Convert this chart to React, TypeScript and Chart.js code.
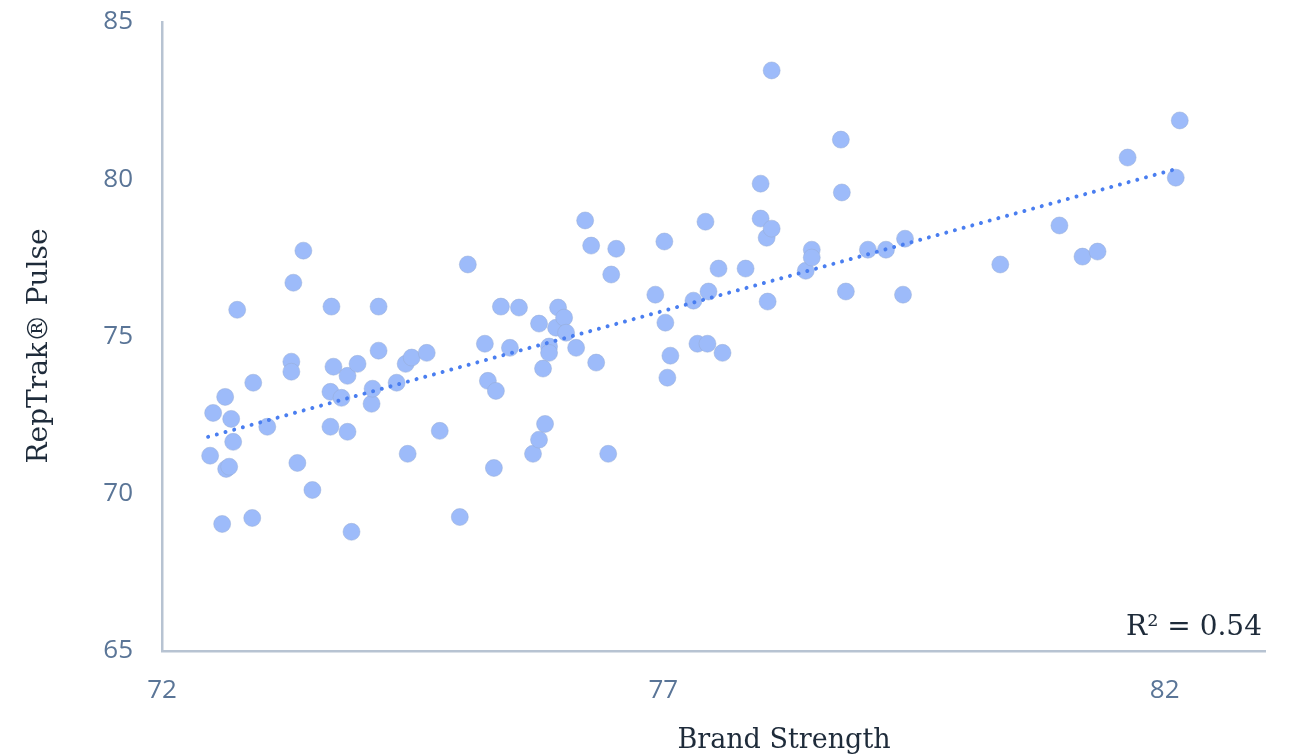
import React, { useEffect, useRef } from "react";
import { Chart, registerables } from "chart.js";

Chart.register(...registerables);

const brandStrength: number[] = [
  72.48, 72.51, 72.63, 72.60, 72.64, 72.67, 72.69, 72.71, 72.75, 72.90,
  72.91, 73.05, 73.29, 73.29, 73.31, 73.35, 73.41, 73.50, 73.69, 73.68,
  73.68, 73.71, 73.79, 73.85, 73.85, 73.89, 73.95, 74.09, 74.10, 74.16,
  74.16, 74.34, 74.43, 74.45, 74.49, 74.64, 74.77, 74.97, 75.05, 75.22,
  75.25, 75.33, 75.31, 75.38, 75.47, 75.56, 75.70, 75.76, 75.76, 75.80,
  75.82, 75.86, 75.86, 75.95, 75.93, 76.01, 76.03, 76.13, 76.22, 76.28,
  76.33, 76.45, 76.48, 76.53, 76.92, 77.01, 77.02, 77.04, 77.07, 77.30,
  77.34, 77.44, 77.42, 77.45, 77.55, 77.59, 77.82, 77.97, 77.97, 78.03,
  78.08, 78.08, 78.04, 78.42, 78.48, 78.48, 78.77, 78.78, 78.82, 79.04,
  79.22, 79.41, 79.39, 80.36, 80.95, 81.18, 81.33, 81.63, 82.11, 82.15,
];

const reptrakPulse: number[] = [
  71.21, 72.57, 73.08, 69.04, 70.79, 70.86, 72.38, 71.65, 75.85, 69.23,
  73.53, 72.13, 74.20, 73.88, 76.71, 70.98, 77.73, 70.12, 75.95, 73.24,
  72.13, 74.04, 73.05, 73.75, 71.97, 68.79, 74.13, 72.86, 73.34, 74.55,
  75.95, 73.53, 74.13, 71.27, 74.33, 74.48, 72.00, 69.26, 77.29, 74.77,
  73.59, 73.27, 70.82, 75.95, 74.64, 75.92, 71.27, 71.72, 75.41, 73.98,
  72.22, 74.68, 74.48, 75.92, 75.28, 75.60, 75.12, 74.64, 78.69, 77.89,
  74.17, 71.27, 76.97, 77.79, 76.33, 78.02, 75.44, 73.69, 74.39, 76.14,
  74.77, 74.77, 78.65, 76.43, 77.16, 74.48, 77.16, 79.86, 78.75, 78.14,
  78.43, 83.46, 76.11, 77.09, 77.76, 77.51, 81.26, 79.58, 76.43, 77.76,
  77.76, 78.11, 76.33, 77.29, 78.53, 77.54, 77.70, 80.69, 80.05, 81.87,
];

const trendX: number[] = [72.46, 82.14];
const trendY: number[] = [71.81, 80.35];

const xTicks: number[] = [72, 77, 82];
const yTicks: number[] = [65, 70, 75, 80, 85];

const xTitle = "Brand Strength";
const yTitle = "RepTrak® Pulse";
const rSquaredLabel = "R² = 0.54";

export default function App() {
  const canvasRef = useRef<HTMLCanvasElement | null>(null);

  useEffect(() => {
    document.body.style.margin = "0";
    const canvas = canvasRef.current;
    if (!canvas) return;

    const titlesPlugin = {
      id: "titlesPlugin",
      afterDraw(chart: any) {
        const ctx = chart.ctx;
        ctx.save();
        ctx.fillStyle = "#1e2b3a";
        ctx.font = "27px 'DejaVu Serif'";
        ctx.textAlign = "center";
        ctx.textBaseline = "alphabetic";
        ctx.fillText(xTitle, 784, 748);
        ctx.save();
        ctx.translate(47, 346);
        ctx.rotate(-Math.PI / 2);
        ctx.font = "28px 'DejaVu Serif'";
        ctx.fillText(yTitle, 0, 0);
        ctx.restore();
        ctx.font = "28px 'DejaVu Serif'";
        ctx.textAlign = "right";
        ctx.fillText(rSquaredLabel, 1262, 635);
        ctx.restore();
      },
    };

    const points = brandStrength.map((x, i) => ({ x, y: reptrakPulse[i] }));
    const trend = trendX.map((x, i) => ({ x, y: trendY[i] }));

    const chart = new Chart(canvas, {
      type: "scatter",
      data: {
        datasets: [
          {
            label: "Trend",
            type: "line",
            data: trend,
            borderColor: "#4a7ef0",
            borderWidth: 4,
            borderCapStyle: "round",
            borderDash: [0.01, 9],
            pointRadius: 0,
            fill: false,
            order: 0,
          } as any,
          {
            label: "Companies",
            data: points,
            backgroundColor: "#9dbbfa",
            borderColor: "rgba(150,170,210,0.6)",
            borderWidth: 0.8,
            pointRadius: 8.5,
            pointHoverRadius: 8.5,
            order: 1,
          },
        ],
      },
      options: {
        responsive: false,
        animation: false,
        layout: { padding: { left: 0, top: 22, right: 26, bottom: 0 } },
        plugins: {
          legend: { display: false },
          tooltip: { enabled: false },
        },
        scales: {
          x: {
            type: "linear",
            min: 72,
            max: 83,
            afterBuildTicks: (scale: any) => {
              scale.ticks = xTicks.map((v) => ({ value: v }));
            },
            afterFit: (scale: any) => {
              scale.height = 104;
              scale.paddingLeft = 0;
              scale.paddingRight = 0;
            },
            grid: { display: false, drawTicks: false },
            border: { display: true, color: "#b7c3d2", width: 2.5 },
            ticks: {
              color: "#5a7597",
              font: { family: "'Open Sans'", size: 26 },
              padding: 24,
              maxRotation: 0,
            },
          },
          y: {
            type: "linear",
            min: 65,
            max: 85,
            afterBuildTicks: (scale: any) => {
              scale.ticks = yTicks.map((v) => ({ value: v }));
            },
            afterFit: (scale: any) => {
              scale.width = 162;
              scale.paddingTop = 0;
              scale.paddingBottom = 0;
            },
            grid: { display: false, drawTicks: false },
            border: { display: true, color: "#b7c3d2", width: 2.5 },
            ticks: {
              color: "#5a7597",
              font: { family: "'Open Sans'", size: 26 },
              padding: 29,
            },
          },
        },
      },
      plugins: [titlesPlugin],
    });

    return () => {
      chart.destroy();
    };
  }, []);

  return (
    <div style={{ width: 1291, height: 755, background: "#ffffff" }}>
      <canvas
        ref={canvasRef}
        width={1291}
        height={755}
        style={{ display: "block", width: 1291, height: 755 }}
      />
    </div>
  );
}
